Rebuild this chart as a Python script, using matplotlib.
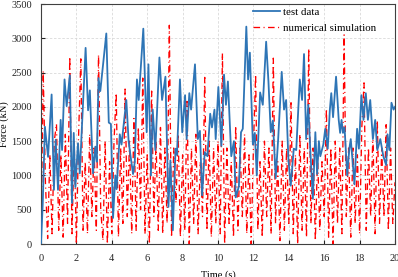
import matplotlib
matplotlib.use("Agg")
import matplotlib.pyplot as plt
import numpy as np

# ---- data ----
test_time = [0.0, 0.1, 0.22, 0.4, 0.6, 0.73, 0.83, 0.96, 1.11, 1.19, 1.33, 1.45, 1.63, 1.75,
             1.85, 1.94, 2.09, 2.19, 2.52, 2.66, 2.76, 2.94, 3.07, 3.15, 3.25, 3.35, 3.69,
             3.83, 3.95, 4.07, 4.2, 4.27, 4.45, 4.55, 4.82, 4.95, 5.05, 5.2, 5.3, 5.42, 5.52,
             5.78, 5.97, 6.07, 6.21, 6.31, 6.46, 6.69, 6.84, 7.03, 7.2, 7.31, 7.45, 7.6, 7.68,
             7.85, 7.98, 8.14, 8.23, 8.38, 8.48, 8.7, 8.86, 8.98, 9.1, 9.25, 9.4, 9.56, 9.66,
             9.8, 9.87, 10.02, 10.19, 10.34, 10.45, 10.56, 10.75, 10.9, 11.0, 11.18, 11.3,
             11.4, 11.6, 11.7, 11.8, 11.97, 12.08, 12.19, 12.38, 12.53, 12.72, 12.85, 12.98,
             13.1, 13.26, 13.4, 13.6, 13.73, 13.85, 13.98, 14.11, 14.28, 14.42, 14.62, 14.75,
             14.86, 14.98, 15.1, 15.21, 15.36, 15.5, 15.6, 15.7, 15.78, 15.95, 16.06, 16.2,
             16.32, 16.4, 16.5, 16.67, 16.82, 16.9, 16.98, 17.06, 17.15, 17.3, 17.42, 17.5,
             17.62, 17.71, 17.86, 17.96, 18.1, 18.22, 18.35, 18.47, 18.6, 18.75, 18.88, 19.0,
             19.17, 19.34, 19.5, 19.58, 19.68, 19.8, 19.92, 20.0]
test_force = [0, 600, 1710, 1270, 2180, 790, 1520, 790, 1810, 1370, 2400, 2010, 2460, 600,
              1620, 830, 1470, 1030, 2860, 1950, 2240, 1030, 1420, 1200, 2420, 2230, 3070,
              1770, 1750, 380, 1000, 800, 1600, 1450, 2100, 1500, 1300, 1020, 1200, 2400, 2100,
              3140, 1630, 2620, 1000, 1960, 1370, 2720, 2100, 2440, 540, 1220, 200, 1390, 1300,
              2400, 1630, 2170, 1530, 2200, 1960, 2620, 1530, 1650, 710, 1340, 1280, 1900, 1700,
              1960, 1530, 2290, 1430, 2470, 2030, 2370, 1280, 1500, 680, 840, 1630,
              1680, 3170, 2400, 2790, 1450, 1620, 1000, 2210, 2030, 2950, 2370, 1630,
              1800, 960, 1530, 2510, 1960, 2100, 1220, 850, 1390, 1370, 2400, 2100,
              2770, 1530, 2030, 1390, 660, 1630, 1020, 1500, 1280, 1450, 1680, 1390,
              1960, 2200, 1850, 2440, 1810, 1620, 1810, 1620, 1700, 1000, 1390, 1530,
              1150, 870, 1680, 1390, 2170, 1810, 2200, 1810, 2100, 1530, 1810, 1370,
              1530, 1280, 1150, 1600, 1370, 2060, 1960, 2000]

sim_time = list(np.arange(0, 161) * 0.125)
sim_force = [50, 2520, 900, 80, 1300, 150, 1500, 1750,
             200, 1300, 100, 1600, 300, 2730, 150, 1500,
             0, 1600, 2700, 200, 1200, 150, 1600, 400,
             1400, 200, 2760, 500, 50, 1500, 0, 1200,
             150, 1500, 2200, 100, 1400, 300, 2260, 400,
             1500, 150, 1830, 200, 1700, 500, 2420, 150,
             1300, 0, 2230, 400, 1500, 200, 1700, 150,
             1400, 300, 3190, 100, 1400, 600, 1600, 100,
             1300, 200, 2080, 0, 1400, 300, 1600, 150,
             1200, 400, 2430, 200, 1500, 100, 1400, 300,
             1500, 150, 2780, 0, 1400, 300, 1200, 100,
             1720, 200, 1400, 400, 1600, 150, 1300, 0,
             1400, 2470, 200, 1200, 100, 1500, 400, 1400,
             150, 2710, 300, 1200, 50, 1500, 200, 1400,
             300, 2060, 150, 1300, 0, 1600, 200, 1400,
             100, 2850, 300, 1400, 50, 1300, 200, 1200,
             400, 1970, 100, 1400, 0, 1500, 300, 1400,
             150, 3050, 400, 1400, 100, 1400, 300, 1300,
             150, 1700, 2350, 200, 1400, 400, 1600, 150,
             1800, 300, 1400, 400, 1740, 200, 1400, 300,
             900]

x_ticks = [0, 2, 4, 6, 8, 10, 12, 14, 16, 18, 20]
y_ticks = [0, 500, 1000, 1500, 2000, 2500, 3000, 3500]
labels = ["test data", "numerical simulation"]

# ---- figure ----
plt.rcParams['font.family'] = ['Liberation Serif', 'DejaVu Serif']
fig = plt.figure(figsize=(3.98, 2.77), dpi=100)
ax = fig.add_axes([41/398, 1-244/277, 354/398, 240/277])

ax.plot(test_time, test_force, color='#2e75b6', lw=1.3, label=labels[0], zorder=3)
ax.plot(sim_time, sim_force, color='#ff0000', lw=0.95,
        linestyle=(0, (5.0, 2.6, 0.8, 2.6)), label=labels[1], zorder=2)

ax.set_xlim(0, 20)
ax.set_ylim(0, 3500)
ax.set_xticks(x_ticks)
ax.set_yticks(y_ticks)
ax.tick_params(direction='in', length=3, width=0.8, labelsize=7.5, colors='#222222')
ax.tick_params(axis='x', pad=7.5)
ax.tick_params(axis='y', pad=6.5)
ax.grid(True, color='#d9d9d9', linestyle=(0, (3, 2)), lw=0.6)
ax.set_axisbelow(True)
for s in ax.spines.values():
    s.set_color('#404040')
    s.set_linewidth(0.8)

ax.set_ylabel("Force (kN)", fontsize=7.5)
ax.yaxis.set_label_coords(-0.09, 0.5)
ax.set_xlabel("Time (s)", fontsize=7.5)
ax.xaxis.set_label_coords(0.5, -0.11)

leg = ax.legend(loc='upper left', bbox_to_anchor=(0.59, 1.0), frameon=False,
                fontsize=7.8, handlelength=2.5, handletextpad=0.3,
                labelspacing=0.6, borderpad=0.3, borderaxespad=0)

fig.savefig("out.png", dpi=100)
